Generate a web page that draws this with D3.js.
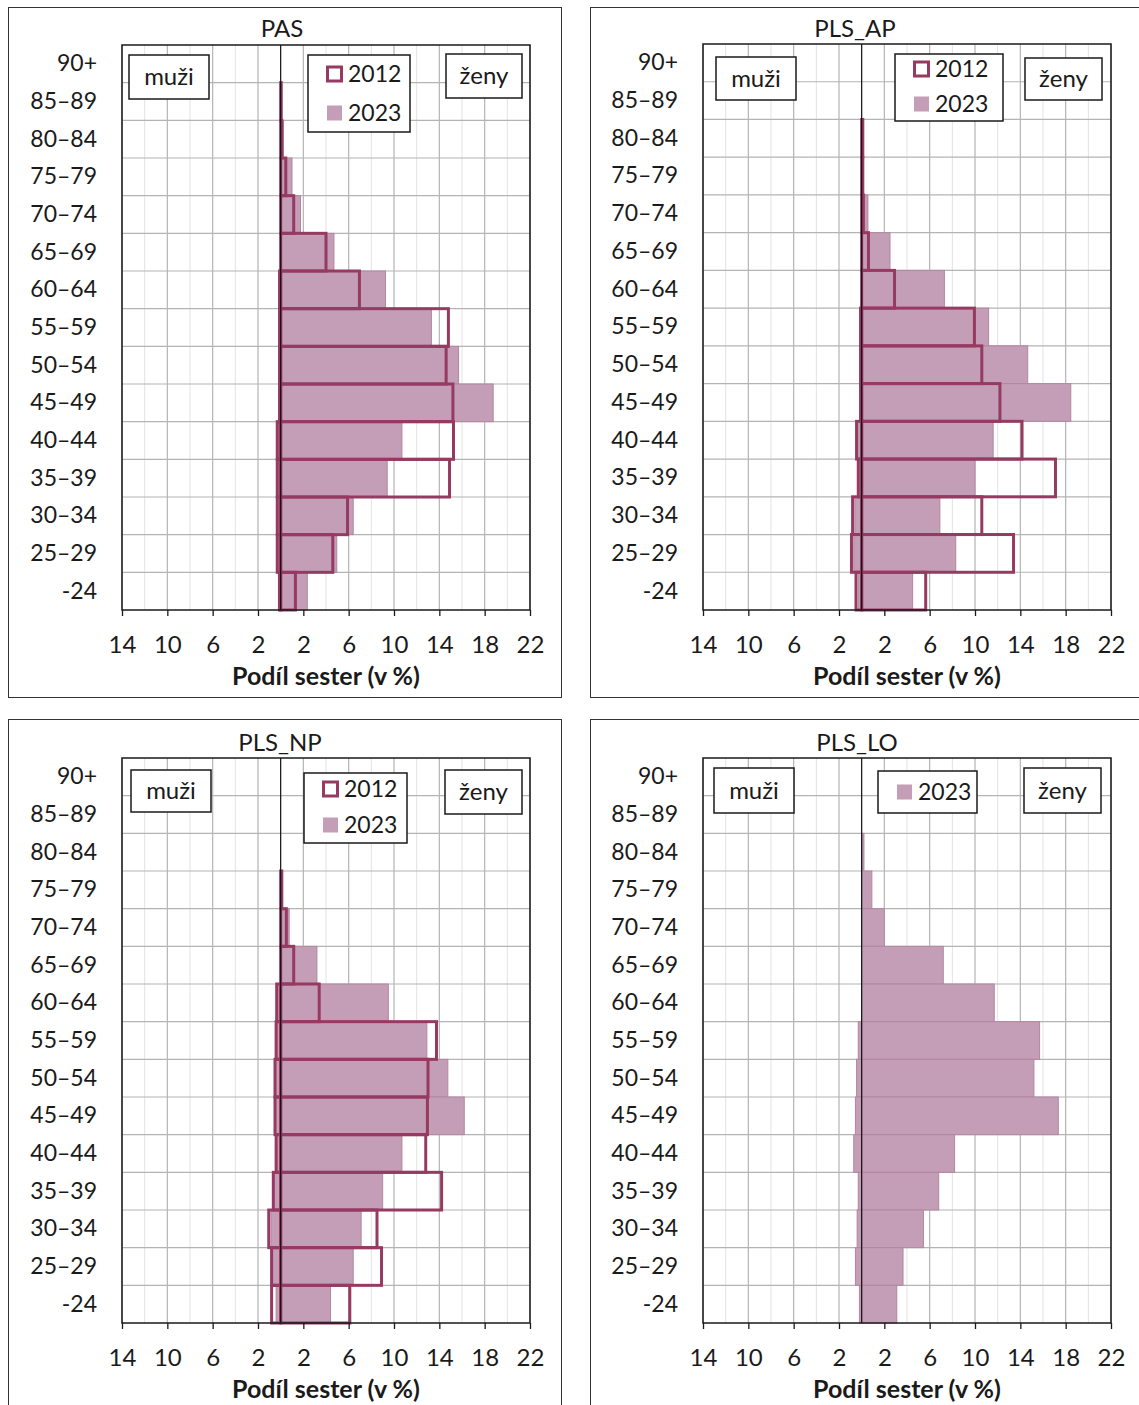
<!DOCTYPE html>
<html>
<head>
<meta charset="utf-8">
<script src="https://cdn.jsdelivr.net/npm/d3@7/dist/d3.min.js"></script>
<style>
  body { margin: 0; background: #fff; }
  svg { display: block; font-family: Lato, 'Open Sans', sans-serif; }
</style>
</head>
<body>
<div id="chart"></div>
<script>
const ageGroups = ['90+', '85–89', '80–84', '75–79', '70–74', '65–69', '60–64', '55–59',
  '50–54', '45–49', '40–44', '35–39', '30–34', '25–29', '-24'];
const xTicks = [-14, -10, -6, -2, 2, 6, 10, 14, 18, 22];
const xMinor = [-12, -8, -4, 0, 4, 8, 12, 16, 20];

// PAS
const pasMen2012 = [0, 0, 0, 0, 0, 0, 0.1, 0.1, 0.1, 0.1, 0.3, 0.3, 0.3, 0.3, 0.1];
const pasWomen2012 = [0, 0.05, 0.1, 0.45, 1.15, 4.0, 6.95, 14.8, 14.6, 15.2, 15.25, 14.9, 5.9, 4.6, 1.3];
const pasMen2023 = [0, 0, 0, 0, 0, 0, 0.1, 0.1, 0.15, 0.15, 0.3, 0.3, 0.3, 0.3, 0.2];
const pasWomen2023 = [0, 0.05, 0.25, 1.0, 1.75, 4.7, 9.25, 13.3, 15.7, 18.75, 10.7, 9.4, 6.4, 4.95, 2.35];

// PLS_AP
const apMen2012 = [0, 0, 0, 0, 0, 0, 0, 0.1, 0.1, 0.1, 0.45, 0.3, 0.8, 0.9, 0.5];
const apWomen2012 = [0, 0, 0.1, 0.1, 0.15, 0.6, 2.9, 9.95, 10.6, 12.2, 14.15, 17.1, 10.6, 13.4, 5.65];
const apMen2023 = [0, 0, 0, 0, 0, 0, 0, 0.1, 0.1, 0.1, 0.45, 0.3, 0.6, 0.7, 0.3];
const apWomen2023 = [0, 0, 0.1, 0.1, 0.55, 2.5, 7.3, 11.2, 14.65, 18.45, 11.6, 10.0, 6.9, 8.3, 4.5];

// PLS_NP
const npMen2012 = [0, 0, 0, 0, 0, 0, 0.35, 0.4, 0.5, 0.5, 0.4, 0.65, 1.05, 0.8, 0.8];
const npWomen2012 = [0, 0, 0, 0.1, 0.5, 1.15, 3.4, 13.75, 13.0, 12.95, 12.8, 14.2, 8.5, 8.9, 6.1];
const npMen2023 = [0, 0, 0, 0, 0, 0, 0.3, 0.35, 0.45, 0.45, 0.35, 0.6, 0.85, 0.8, 0.4];
const npWomen2023 = [0, 0, 0, 0.1, 0.75, 3.2, 9.5, 12.9, 14.75, 16.2, 10.7, 9.0, 7.1, 6.4, 4.4];

// PLS_LO (jen 2023)
const loMen2023 = [0, 0, 0, 0, 0, 0, 0, 0.3, 0.45, 0.55, 0.7, 0.3, 0.4, 0.55, 0.2];
const loWomen2023 = [0, 0, 0.2, 0.9, 2.0, 7.2, 11.7, 15.7, 15.2, 17.35, 8.2, 6.8, 5.45, 3.65, 3.1];

const fill2023 = '#c49db6';
const edge2023 = '#b3869f';
const line2012 = '#963a62';
const textColor = '#1a1a1a';

const panels = [
  { title: 'PAS', titleX: 282, titleY: 37,
    men2012: pasMen2012, women2012: pasWomen2012, men2023: pasMen2023, women2023: pasWomen2023,
    frame: [8, 7, 553, 690], plot: [122, 45, 408, 565],
    muzi: [129, 55, 80, 44], zeny: [446, 54, 76, 44], legend: [308, 55, 102, 77], rows: [74, 113] },
  { title: 'PLS_AP', titleX: 855, titleY: 37,
    men2012: apMen2012, women2012: apWomen2012, men2023: apMen2023, women2023: apWomen2023,
    frame: [590, 7, 560, 690], plot: [703, 44, 408, 566],
    muzi: [716, 57, 80, 43], zeny: [1025, 58, 77, 42], legend: [895, 54, 108, 67], rows: [69, 104] },
  { title: 'PLS_NP', titleX: 280, titleY: 751,
    men2012: npMen2012, women2012: npWomen2012, men2023: npMen2023, women2023: npWomen2023,
    frame: [8, 719, 553, 700], plot: [122, 758, 408, 565],
    muzi: [131, 770, 80, 42], zeny: [445, 770, 77, 44], legend: [304, 773, 103, 70], rows: [789, 825] },
  { title: 'PLS_LO', titleX: 857, titleY: 751,
    men2012: null, women2012: null, men2023: loMen2023, women2023: loWomen2023,
    frame: [590, 719, 560, 700], plot: [703, 758, 408, 565],
    muzi: [714, 768, 80, 45], zeny: [1024, 768, 77, 45], legend: [878, 771, 99, 42], rows: [792] }
];

const svg = d3.select('#chart')
  .append('svg')
  .attr('width', 1139)
  .attr('height', 1405);

svg.append('rect')
  .attr('width', 1139)
  .attr('height', 1405)
  .attr('fill', '#fff');

panels.forEach(drawPanel);

function drawPanel(p) {
  const [fx, fy, fw, fh] = p.frame;
  const [px, py, pw, ph] = p.plot;

  svg.append('rect')
    .attr('x', fx + 0.5).attr('y', fy + 0.5)
    .attr('width', fw).attr('height', fh)
    .attr('fill', 'none')
    .attr('stroke', '#333')
    .attr('stroke-width', 1);

  const x = d3.scaleLinear().domain([-14, 22]).range([px, px + pw]);
  const y = d3.scaleBand().domain(ageGroups).range([py, py + ph]).padding(0);

  const g = svg.append('g');

  //grid
  g.selectAll('.minor')
    .data(xMinor)
    .enter().append('line')
    .attr('x1', d => x(d)).attr('x2', d => x(d))
    .attr('y1', py).attr('y2', py + ph)
    .attr('stroke', '#e3e3e3')
    .attr('stroke-width', 1);

  g.selectAll('.major')
    .data(xTicks)
    .enter().append('line')
    .attr('x1', d => x(d)).attr('x2', d => x(d))
    .attr('y1', py).attr('y2', py + ph)
    .attr('stroke', '#b4b4b4')
    .attr('stroke-width', 1.2);

  g.selectAll('.hgrid')
    .data(ageGroups.slice(1))
    .enter().append('line')
    .attr('x1', px).attr('x2', px + pw)
    .attr('y1', d => y(d)).attr('y2', d => y(d))
    .attr('stroke', '#b4b4b4')
    .attr('stroke-width', 1.2);

  //2023 filled bars
  const rows2023 = ageGroups.map((a, i) => ({ age: a, men: p.men2023[i], women: p.women2023[i] }));

  g.selectAll('.women2023')
    .data(rows2023.filter(d => d.women > 0))
    .enter().append('rect')
    .attr('x', x(0))
    .attr('y', d => y(d.age))
    .attr('width', d => x(d.women) - x(0))
    .attr('height', y.bandwidth())
    .attr('fill', fill2023)
    .attr('stroke', edge2023)
    .attr('stroke-width', 1);

  g.selectAll('.men2023')
    .data(rows2023.filter(d => d.men > 0))
    .enter().append('rect')
    .attr('x', d => x(-d.men))
    .attr('y', d => y(d.age))
    .attr('width', d => x(0) - x(-d.men))
    .attr('height', y.bandwidth())
    .attr('fill', fill2023)
    .attr('stroke', edge2023)
    .attr('stroke-width', 1);

  //2012 outlines
  if (p.women2012) {
    const rows2012 = ageGroups.map((a, i) => ({ age: a, men: p.men2012[i], women: p.women2012[i] }));

    g.selectAll('.women2012')
      .data(rows2012.filter(d => d.women > 0))
      .enter().append('rect')
      .attr('x', x(0))
      .attr('y', d => y(d.age))
      .attr('width', d => x(d.women) - x(0))
      .attr('height', y.bandwidth())
      .attr('fill', 'none')
      .attr('stroke', line2012)
      .attr('stroke-width', 3);

    g.selectAll('.men2012')
      .data(rows2012.filter(d => d.men > 0))
      .enter().append('rect')
      .attr('x', d => x(-d.men))
      .attr('y', d => y(d.age))
      .attr('width', d => x(0) - x(-d.men))
      .attr('height', y.bandwidth())
      .attr('fill', 'none')
      .attr('stroke', line2012)
      .attr('stroke-width', 3);
  }

  //zero line
  g.append('line')
    .attr('x1', x(0)).attr('x2', x(0))
    .attr('y1', py).attr('y2', py + ph)
    .attr('stroke', '#111')
    .attr('stroke-width', 1.2);

  //plot border
  g.append('rect')
    .attr('x', px).attr('y', py)
    .attr('width', pw).attr('height', ph)
    .attr('fill', 'none')
    .attr('stroke', '#1a1a1a')
    .attr('stroke-width', 1.5);

  //x axis
  const xAxis = g.append('g')
    .attr('transform', 'translate(0,' + (py + ph) + ')')
    .call(d3.axisBottom(x)
      .tickValues(xTicks)
      .tickFormat(d => Math.abs(d))
      .tickSize(6)
      .tickPadding(20));
  xAxis.select('.domain').remove();
  xAxis.selectAll('line').attr('stroke', '#1a1a1a').attr('stroke-width', 1.3);
  xAxis.selectAll('text')
    .attr('fill', textColor)
    .style('font-family', 'Lato, sans-serif')
    .style('font-size', '24px');

  //y axis
  const yAxis = g.append('g')
    .attr('transform', 'translate(' + px + ',0)')
    .call(d3.axisLeft(y).tickSize(0).tickPadding(25));
  yAxis.select('.domain').remove();
  yAxis.selectAll('text')
    .attr('fill', textColor)
    .style('font-family', 'Lato, sans-serif')
    .style('font-size', '23px');

  //axis title
  g.append('text')
    .attr('x', px + pw / 2)
    .attr('y', py + ph + 75)
    .attr('text-anchor', 'middle')
    .attr('fill', textColor)
    .style('font-size', '25px')
    .style('font-weight', 'bold')
    .text('Podíl sester (v %)');

  //panel title
  g.append('text')
    .attr('x', p.titleX)
    .attr('y', p.titleY)
    .attr('text-anchor', 'middle')
    .attr('fill', textColor)
    .style('font-size', '24px')
    .text(p.title);

  //side labels
  [[p.muzi, 'muži'], [p.zeny, 'ženy']].forEach(([b, label]) => {
    g.append('rect')
      .attr('x', b[0]).attr('y', b[1])
      .attr('width', b[2]).attr('height', b[3])
      .attr('fill', '#fff')
      .attr('stroke', '#1a1a1a')
      .attr('stroke-width', 1.5);
    g.append('text')
      .attr('x', b[0] + b[2] / 2)
      .attr('y', b[1] + b[3] / 2)
      .attr('dy', '0.35em')
      .attr('text-anchor', 'middle')
      .attr('fill', textColor)
      .style('font-size', '24px')
      .text(label);
  });

  //legend
  const [lx, ly, lw, lh] = p.legend;
  g.append('rect')
    .attr('x', lx).attr('y', ly)
    .attr('width', lw).attr('height', lh)
    .attr('fill', '#fff')
    .attr('stroke', '#1a1a1a')
    .attr('stroke-width', 1.5);

  const items = p.women2012 ? ['2012', '2023'] : ['2023'];
  items.forEach((year, i) => {
    const cy = p.rows[i];
    if (year === '2012') {
      g.append('rect')
        .attr('x', lx + 19.5).attr('y', cy - 7)
        .attr('width', 14).attr('height', 14)
        .attr('fill', '#fff')
        .attr('stroke', line2012)
        .attr('stroke-width', 3);
    } else {
      g.append('rect')
        .attr('x', lx + 19).attr('y', cy - 7.5)
        .attr('width', 15).attr('height', 15)
        .attr('fill', fill2023);
    }
    g.append('text')
      .attr('x', lx + 40)
      .attr('y', cy)
      .attr('dy', '0.36em')
      .attr('fill', textColor)
      .style('font-size', '23px')
      .text(year);
  });
}
</script>
</body>
</html>
